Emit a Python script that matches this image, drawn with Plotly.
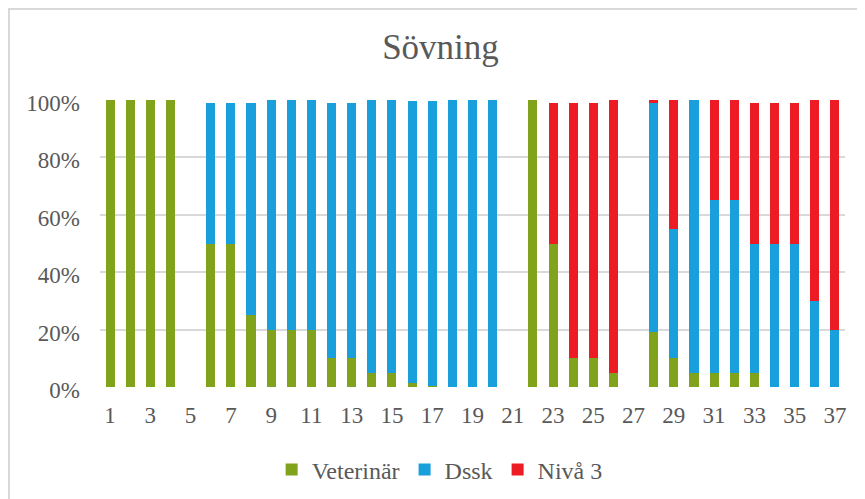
import plotly.graph_objects as go

categories = list(range(1, 38))
veterinar = [100, 100, 100, 100, 0, 50, 50, 25, 20, 20, 20, 10, 10, 5, 5, 1.5, 0.5, 0, 0, 0,
             0, 100, 50, 10, 10, 5, 0, 19, 10, 5, 5, 5, 5, 0, 0, 0, 0]
dssk = [0, 0, 0, 0, 0, 49, 49, 74, 80, 80, 80, 89, 89, 95, 95, 98, 99, 100, 100, 100,
        0, 0, 0, 0, 0, 0, 0, 80, 45, 95, 60, 60, 45, 50, 50, 30, 20]
niva3 = [0, 0, 0, 0, 0, 0, 0, 0, 0, 0, 0, 0, 0, 0, 0, 0, 0, 0, 0, 0,
         0, 0, 49, 89, 89, 95, 0, 1, 45, 0, 35, 35, 49, 49, 49, 70, 80]
y_ticks = [0, 20, 40, 60, 80, 100]
x_ticks = list(range(1, 38, 2))

font_family = "Liberation Serif, Times New Roman, serif"
grey = "#595959"
grid_grey = "#d9d9d9"

fig = go.Figure()
fig.add_bar(x=categories, y=veterinar, name="Veterinär", marker_color="#80a31b")
fig.add_bar(x=categories, y=dssk, name="Dssk", marker_color="#189fdc")
fig.add_bar(x=categories, y=niva3, name="Nivå 3", marker_color="#ed1c24")

fig.update_traces(marker_line_width=0)

W, H = 865, 499
l, r, t, b = 92, 28, 92, 120
ph = H - t - b

fig.update_layout(
    template="none",
    width=W, height=H,
    barmode="stack",
    bargap=0.55,
    margin=dict(l=l, r=r, t=t, b=b, autoexpand=False),
    paper_bgcolor="white",
    plot_bgcolor="white",
    title=dict(text="Sövning", x=0.5, xanchor="center", y=1 - 39 / H, yanchor="middle",
               font=dict(family=font_family, size=35, color=grey)),
    font=dict(family=font_family, color=grey),
    legend=dict(orientation="h", xref="container", x=0.499, xanchor="center",
                y=-(462 - (H - b)) / ph, yanchor="middle",
                font=dict(family=font_family, size=24, color=grey),
                itemwidth=30, traceorder="normal", bgcolor="rgba(0,0,0,0)"),
    xaxis=dict(range=[0.5, 37.5], tickmode="array", tickvals=x_ticks,
               ticktext=[str(v) for v in x_ticks], showgrid=False,
               showline=False, zeroline=False, ticks="", ticklabelstandoff=12,
               automargin=False,
               tickfont=dict(family=font_family, size=23, color=grey)),
    yaxis=dict(range=[0, 100], tickmode="array", tickvals=y_ticks,
               ticktext=[f"{v}%" for v in y_ticks],
               showgrid=True, gridcolor=grid_grey, gridwidth=2, zeroline=False,
               showline=False, ticks="", ticklabelstandoff=19, ticklabelshift=3,
               automargin=False,
               tickfont=dict(family=font_family, size=23, color=grey)),
    shapes=[dict(type="rect", xref="paper", yref="paper",
                 x0=-(l - 1) / (W - l - r), x1=1 + (r + 5) / (W - l - r),
                 y0=-(b + 5) / ph, y1=1 + (t - 1) / ph,
                 line=dict(color=grid_grey, width=2), fillcolor="rgba(0,0,0,0)",
                 layer="above")],
)

fig.write_html("out.html")
